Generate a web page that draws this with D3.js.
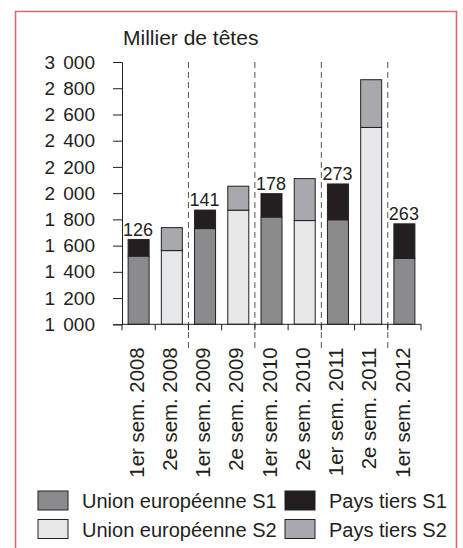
<!DOCTYPE html>
<html><head><meta charset="utf-8">
<script src="https://cdn.jsdelivr.net/npm/d3@7"></script>
<style>
html,body{margin:0;padding:0;background:#fff;}
svg{display:block;font-family:"Liberation Sans",Arial,sans-serif;}
</style></head>
<body><svg id="c" width="463" height="548"></svg>
<script>
const categories = ["1er sem. 2008","2e sem. 2008","1er sem. 2009","2e sem. 2009","1er sem. 2010","2e sem. 2010","1er sem. 2011","2e sem. 2011","1er sem. 2012"];
const semester = ["S1","S2","S1","S2","S1","S2","S1","S2","S1"];
const euValues = [1520, 1562, 1730, 1870, 1818, 1791, 1797, 2501, 1503];
const thirdValues = [126, 175, 141, 183, 178, 320, 273, 364, 263];
const thirdLabels = ["126", null, "141", null, "178", null, "273", null, "263"];
const yTicks = [1000,1200,1400,1600,1800,2000,2200,2400,2600,2800,3000];
const legendLabels = ["Union européenne S1","Pays tiers S1","Union européenne S2","Pays tiers S2"];
const colors = {euS1:"#8b8b8d", thS1:"#231f20", euS2:"#e6e7e8", thS2:"#a7a9ac"};

const svg = d3.select("#c");
// frame
svg.append("path").attr("d","M15.5,560 V11.5 H456.5 V560")
  .attr("fill","none").attr("stroke","#d96a6a").attr("stroke-width",1.6);

const xb = d3.scaleBand().domain(categories).range([122,421]);
const y = d3.scaleLinear().domain([1000,3000]).range([324.3,62]);

// dashed year separators
const seps = [2,4,6,8];
svg.append("g").selectAll("line").data(seps).join("line")
  .attr("x1",i=>xb(categories[i])).attr("x2",i=>xb(categories[i]))
  .attr("y1",62).attr("y2",350)
  .attr("stroke","#555").attr("stroke-width",1).attr("stroke-dasharray","6,4");

// bars
const g = svg.append("g");
categories.forEach((c,i)=>{
  const s1 = semester[i]==="S1";
  const bx = xb(c)+xb.bandwidth()/2-10.5;
  g.append("rect").attr("x",bx).attr("width",21)
    .attr("y",y(euValues[i])).attr("height",y(1000)-y(euValues[i]))
    .attr("fill",s1?colors.euS1:colors.euS2).attr("stroke","#231f20").attr("stroke-width",1);
  const tot = euValues[i]+thirdValues[i];
  g.append("rect").attr("x",bx).attr("width",21)
    .attr("y",y(tot)).attr("height",y(euValues[i])-y(tot))
    .attr("fill",s1?colors.thS1:colors.thS2).attr("stroke","#231f20").attr("stroke-width",1);
  if(thirdLabels[i]){
    g.append("text").attr("x",xb(c)+xb.bandwidth()/2-0.5).attr("y",y(tot)-4)
      .attr("text-anchor","middle").attr("font-size",18).attr("fill","#231f20").text(thirdLabels[i]);
  }
});

// y axis
const fmt = v => d3.format(",")(v).replace(",", " ");
const ya = svg.append("g").attr("transform","translate(122,0)")
  .call(d3.axisLeft(y).tickValues(yTicks).tickSize(9).tickPadding(18).tickFormat(fmt));
ya.select(".domain").attr("stroke","#231f20");
ya.selectAll(".tick line").attr("stroke","#231f20");
ya.selectAll("text").attr("font-size",19).attr("word-spacing",3).attr("fill","#231f20").attr("font-family","Liberation Sans, Arial, sans-serif");

// x axis
const xaG = svg.append("g").attr("transform","translate(0,324.3)");
xaG.append("line").attr("x1",122).attr("x2",421).attr("stroke","#231f20");
const bounds = categories.map(c=>xb(c)).concat([421]);
xaG.selectAll("line.t").data(bounds).join("line").attr("class","t")
  .attr("x1",d=>d).attr("x2",d=>d).attr("y1",0).attr("y2",6).attr("stroke","#231f20");
xaG.selectAll("text").data(categories).join("text")
  .attr("transform",c=>`translate(${xb(c)+xb.bandwidth()/2-2},23) rotate(-90)`)
  .attr("text-anchor","end").attr("dy","0.35em")
  .attr("font-size",20.4).attr("fill","#231f20").text(c=>c);

// title
svg.append("text").attr("x",123).attr("y",45).attr("font-size",21).attr("fill","#231f20").text("Millier de têtes");

// legend
const leg = [
  {l:legendLabels[0], c:colors.euS1, x:38, y:491},
  {l:legendLabels[1], c:colors.thS1, x:285, y:491},
  {l:legendLabels[2], c:colors.euS2, x:38, y:519.5},
  {l:legendLabels[3], c:colors.thS2, x:285, y:519.5}
];
const lg = svg.append("g");
leg.forEach(d=>{
  lg.append("rect").attr("x",d.x).attr("y",d.y).attr("width",30).attr("height",19)
    .attr("fill",d.c).attr("stroke","#231f20").attr("stroke-width",1);
  lg.append("text").attr("x",d.x+44).attr("y",d.y+17).attr("font-size",20).attr("fill","#231f20").text(d.l);
});
</script></body></html>
